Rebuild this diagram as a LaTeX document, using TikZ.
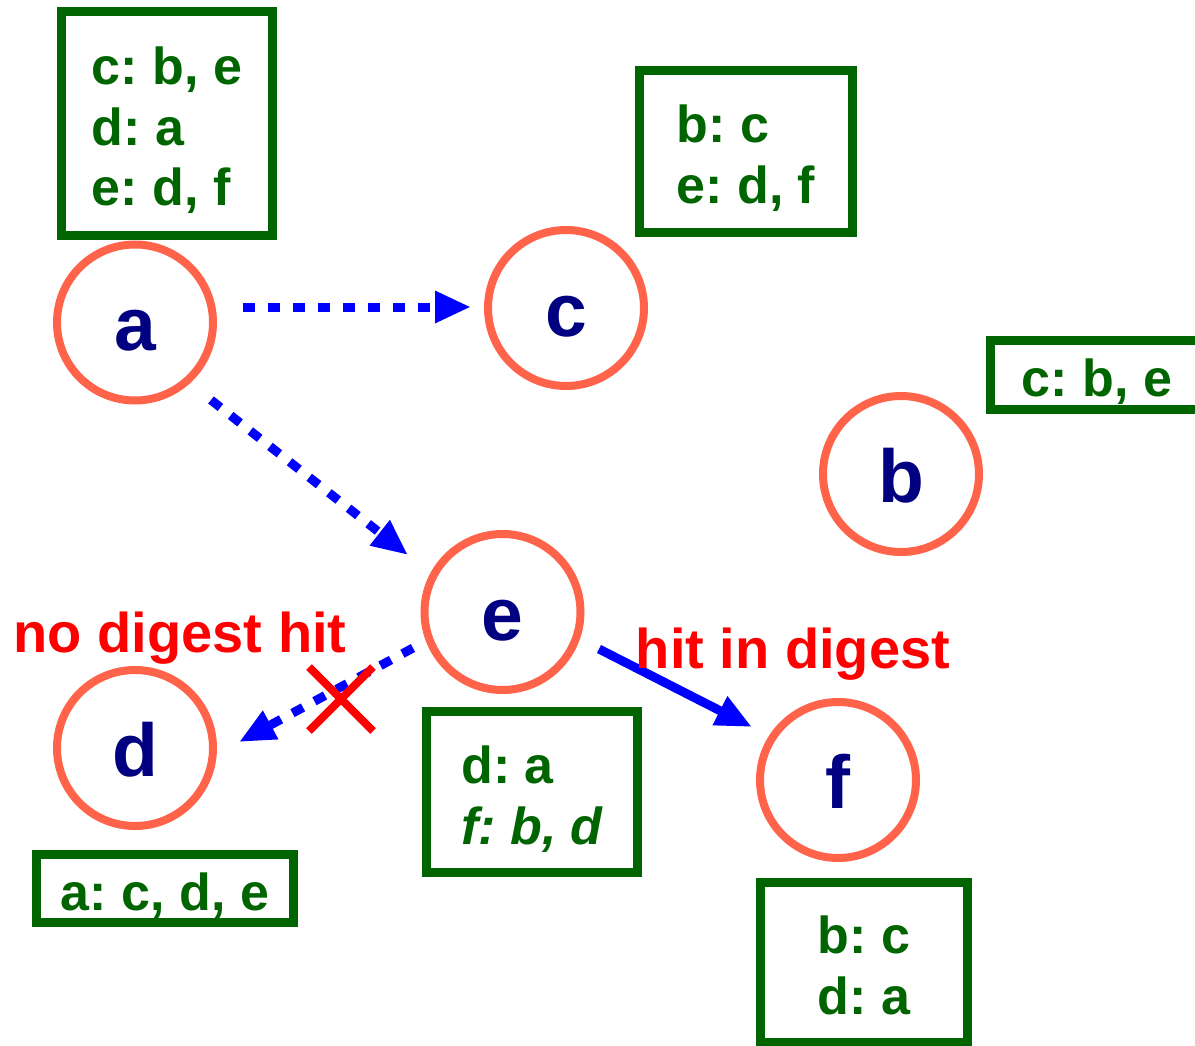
\documentclass[tikz,border=0pt]{standalone}
\usepackage{fontspec}
\setmainfont{Liberation Sans}
\usetikzlibrary{arrows.meta,shapes.misc}
\definecolor{nodering}{RGB}{255,100,75}
\definecolor{nodeink}{RGB}{0,0,128}
\definecolor{digestgreen}{RGB}{0,100,0}
\newcommand{\digrow}{\rule[-9pt]{0pt}{61pt}}
\frenchspacing

\begin{document}
\begin{tikzpicture}[x=1pt, y=-1pt,
    peer/.style={circle, draw=nodering, line width=8pt, minimum size=156pt, inner sep=0pt,
      text=nodeink, font=\fontsize{75}{75}\selectfont\bfseries, text height=56pt, text depth=0pt},
    digest/.style={draw=digestgreen, line width=9pt, inner sep=0pt, align=left,
      text=digestgreen, font=\fontsize{52}{61}\selectfont\bfseries},
    query/.style={blue, line width=9pt, -{Triangle[length=36pt,width=30pt]}},
    lookup/.style={query, dash pattern=on 12pt off 13pt},
    verdict/.style={red, font=\fontsize{56}{56}\selectfont\bfseries, anchor=base}]
    \useasboundingbox (0,0) rectangle (1195,1046);
    % Peers
    \node[peer] (a) at (135,322.5) {a};
    \node[peer] (c) at (566,308) {c};
    \node[peer] (b) at (901,474) {b};
    \node[peer] (e) at (502.5,612) {e};
    \node[peer] (d) at (135,748) {d};
    \node[peer] (f) at (838,780) {f};
    % Digests
    \node[digest, minimum width=211pt, minimum height=224pt] (dgA) at (167,123.5)
      {\digrow c: b, e\\\digrow d: a\\\digrow e: d, f};
    \node[digest, minimum width=213pt, minimum height=162pt] (dgC) at (746,151.5)
      {\digrow b: c\\\digrow e: d, f};
    \node[digest, minimum width=213pt, minimum height=69pt] (dgB) at (1097,375)
      {\digrow c: b, e};
    \node[digest, minimum width=257pt, minimum height=68pt] (dgD) at (165,888.5)
      {\digrow a: c, d, e};
    \node[digest, minimum width=211pt, minimum height=161pt] (dgE) at (532,792)
      {\digrow d: a\\\digrow\itshape f: b, d};
    \node[digest, minimum width=207pt, minimum height=160pt] (dgF) at (864,962)
      {\digrow b: c\\\digrow d: a};
    % Queries
    \draw[lookup] ([shift={(108,-15.5)}]a.center) -- ([shift={(-95,-1)}]c.center);
    \draw[lookup] ([shift={(76,77.5)}]a.center) -- ([shift={(-94.5,-57)}]e.center);
    \draw[lookup] ([shift={(-89.5,36)}]e.center) -- ([shift={(104,-6)}]d.center);
    \draw[query] ([shift={(96.5,37)}]e.center) -- ([shift={(-86,-53)}]f.center);
    % Outcomes
    \node[cross out, draw=red, line width=8pt, minimum size=56pt, inner sep=0pt] (miss) at (341,699) {};
    \node[verdict] (nohit) at (180,652) {no digest hit};
    \node[verdict] (hit) at (793,668) {hit in digest};
\end{tikzpicture}
\end{document}
